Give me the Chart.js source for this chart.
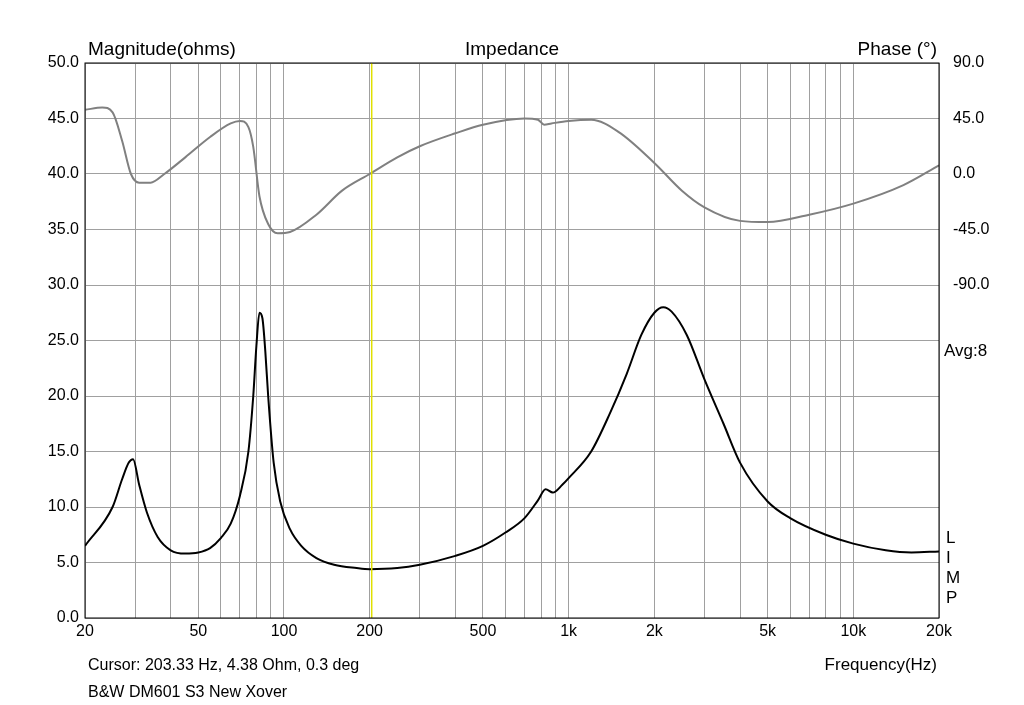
<!DOCTYPE html>
<html><head><meta charset="utf-8">
<script src="https://cdn.jsdelivr.net/npm/chart.js@4/dist/chart.umd.min.js"></script>
<style>html,body{margin:0;padding:0;background:#fff}#w{width:1024px;height:705px}</style>
</head><body><div id="w"><canvas id="c"></canvas></div>
<script>
const magFreq = [20,25,27,28.5,29.5,31,33,36,40,45,50,55,60,65,70,75,78,80,82,84,86,88,92,97,105,115,130,150,180,200,250,300,400,500,600,700,780,830,880,950,1000,1200,1400,1600,1800,2000,2150,2300,2600,3000,3500,4000,5000,6000,8000,10000,13000,16000,20000];
const magOhms = [6.5,10,12.5,14,14.3,12,9.5,7.3,6.1,5.8,5.9,6.3,7.2,8.5,11,15,20,24.5,27.5,27,24,20,14,10.5,8,6.5,5.4,4.8,4.5,4.4,4.5,4.8,5.6,6.5,7.7,9,10.6,11.6,11.3,12,12.6,15,18.5,22,25.5,27.5,28,27.6,25.5,21.5,17.5,14,10.5,9,7.5,6.7,6.1,5.9,6.0];
const phFreq = [20,23,25,27,29,31,34,38,45,55,65,70,75,78,82,88,95,105,130,160,200,250,300,400,500,700,780,820,870,1000,1200,1500,2000,2500,3000,4000,5000,7000,10000,15000,20000];
const phDeg = [52,54,50,27,0,-7,-7,0,13.5,30,41,43,38,22,-18,-40.5,-48,-47,-33,-13.5,0,13.5,22.5,33,40,45,44,40,41,43,44,34,9,-13.5,-27,-38,-39,-33,-24,-9,7];
const gridFreq = [20,30,40,50,60,70,80,90,100,200,300,400,500,600,700,800,900,1000,2000,3000,4000,5000,6000,7000,8000,9000,10000,20000];
const labelFreq = {20:'20',50:'50',100:'100',200:'200',500:'500',1000:'1k',2000:'2k',5000:'5k',10000:'10k',20000:'20k'};
const cursorHz = 203.33;
const F = "'Liberation Sans', Arial, sans-serif";
const textPlugin = {id:'txt', afterDraw(ch){
  const c=ch.ctx, a=ch.chartArea; c.save();
  const x=ch.scales.x.getPixelForValue(cursorHz);
  c.strokeStyle='#e0e000'; c.lineWidth=1.5; c.beginPath(); c.moveTo(x,a.top); c.lineTo(x,a.bottom); c.stroke();
  c.strokeStyle='#000'; c.lineWidth=1; c.strokeRect(a.left,a.top,a.right-a.left,a.bottom-a.top);
  c.fillStyle='#000'; c.textBaseline='alphabetic';
  c.font='19px '+F;
  c.textAlign='left'; c.fillText('Magnitude(ohms)',88,55);
  c.textAlign='center'; c.fillText('Impedance',512,55);
  c.textAlign='right'; c.fillText('Phase (°)',937,55);
  c.font='17px '+F;
  c.textAlign='left'; c.fillText('Avg:8',944,356);
  ['L','I','M','P'].forEach((s,i)=>c.fillText(s,946,543+i*20));
  c.font='16px '+F;
  c.fillText('Cursor: 203.33 Hz, 4.38 Ohm, 0.3 deg',88,670);
  c.fillText('B&W DM601 S3 New Xover',88,697);
  c.font='17px '+F;
  c.textAlign='right'; c.fillText('Frequency(Hz)',937,670);
  c.restore();
}};
new Chart(document.getElementById('c'),{
  type:'line',
  data:{datasets:[
    {data:magFreq.map((f,i)=>({x:f,y:magOhms[i]})),borderColor:'#000',borderWidth:2,pointRadius:0,cubicInterpolationMode:'monotone',yAxisID:'y'},
    {data:phFreq.map((f,i)=>({x:f,y:phDeg[i]})),borderColor:'#808080',borderWidth:2,pointRadius:0,cubicInterpolationMode:'monotone',yAxisID:'y2'}
  ]},
  plugins:[textPlugin],
  options:{responsive:true,maintainAspectRatio:false,animation:false,
    layout:{padding:{top:63,left:0,right:0,bottom:0}},
    plugins:{legend:{display:false},tooltip:{enabled:false}},
    scales:{
      x:{type:'logarithmic',min:20,max:20000,
        afterBuildTicks(s){s.ticks=gridFreq.map(v=>({value:v}));},
        afterFit(s){s.height=87;},
        ticks:{autoSkip:false,maxRotation:0,color:'#000',font:{family:F,size:16},padding:4,callback:v=>labelFreq[v]||''},
        grid:{color:'#a0a0a0',drawTicks:false},border:{display:false}},
      y:{min:0,max:50,afterFit(s){s.width=85;},
        ticks:{stepSize:5,color:'#000',font:{family:F,size:16},padding:6,callback:v=>v.toFixed(1)},
        grid:{color:'#a0a0a0',drawTicks:false},border:{display:false}},
      y2:{position:'right',min:-360,max:90,afterFit(s){s.width=85;},
        ticks:{stepSize:45,color:'#000',font:{family:F,size:16},padding:6,callback:v=>v>=-90?v.toFixed(1):''},
        grid:{display:false},border:{display:false}}
    }}
});
</script></body></html>
